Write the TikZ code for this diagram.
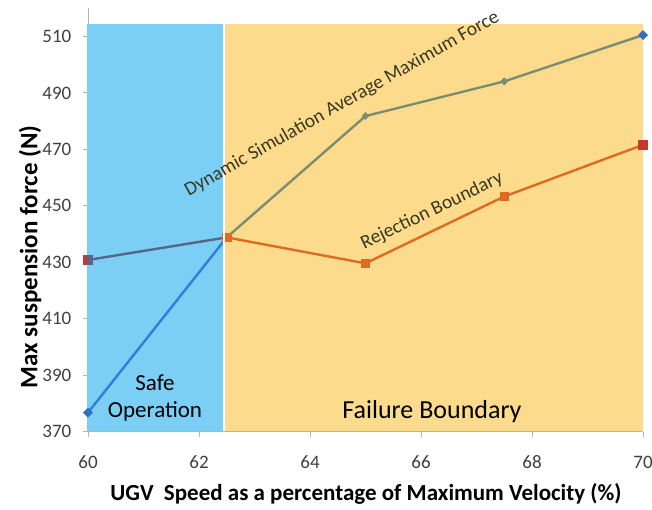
\documentclass[tikz,border=0pt]{standalone}
\usepackage{fontspec}
\setmainfont{Carlito}
\usetikzlibrary{shapes.geometric}

\definecolor{saferegion}{HTML}{7BCFF4}
\definecolor{failregion}{HTML}{FCDC8C}
\definecolor{simline}{HTML}{7A8C73}
\definecolor{simblue}{HTML}{2F7ED8}
\definecolor{simmark}{HTML}{2E6FC0}
\definecolor{rejline}{HTML}{DE6B22}
\definecolor{rejblue}{HTML}{5A6487}
\definecolor{rejmark}{HTML}{C43A33}
\definecolor{axisgray}{HTML}{B4B4B4}
\definecolor{ticktext}{HTML}{404040}
\definecolor{labeltext}{HTML}{3A3820}

\tikzset{
  diam/.style={diamond, inner sep=0pt, minimum size=8pt, fill=simline, draw=none},
  diamend/.style={diam, minimum size=10pt, fill=simmark},
  sq/.style={rectangle, inner sep=0pt, minimum size=9.5pt, fill=rejline, draw=none},
  sqend/.style={sq, fill=rejmark},
  ytick/.style={anchor=east, font=\fontsize{19}{19}\selectfont, text=ticktext, inner sep=0pt},
  xtick/.style={anchor=center, font=\fontsize{19}{19}\selectfont, text=ticktext, inner sep=0pt},
  axtitle/.style={font=\bfseries, text=black, inner sep=0pt},
  curvelabel/.style={font=\fontsize{19.5}{19.5}\selectfont, text=labeltext, inner sep=0pt},
  zonelabel/.style={text=black, inner sep=0pt, align=center},
  series/.style={line width=2.4pt},
}

\begin{document}
\begin{tikzpicture}[x=1pt,y=1pt]
\useasboundingbox (0,0) rectangle (652,509);

% shaded zones
\fill[failregion] (225,78) rectangle (643,485);

% axes
\draw[axisgray, line width=1pt] (88,501) -- (88,77.5) -- (643,77.5);

\begin{scope}[shift={(88,77.5)}, x=55.5pt, y=2.8214pt]
  % ticks
  \foreach \v in {0,2,4,6,8,10} {
    \draw[axisgray, line width=1pt] (\v,0) -- ++(0,-5pt);
    \pgfmathtruncatemacro{\lab}{60+\v}
    \node[xtick] (xt\v) at ([yshift=-31pt]\v,0) {\lab};
  }
  \foreach \v in {0,20,40,60,80,100,120,140} {
    \draw[axisgray, line width=1pt] (0,\v) -- ++(-5pt,0);
    \pgfmathtruncatemacro{\lab}{370+\v}
    \node[ytick] (yt\v) at ([xshift=-16.5pt]0,\v) {\lab};
  }

  % data points
  \coordinate (s1) at (0,6.7);
  \coordinate (s2) at (2.5,68.8);
  \coordinate (s3) at (5,111.8);
  \coordinate (s4) at (7.5,124.1);
  \coordinate (s5) at (10,140.5);
  \coordinate (r1) at (0,60.8);
  \coordinate (r2) at (2.5,68.8);
  \coordinate (r3) at (5,59.6);
  \coordinate (r4) at (7.5,83.3);
  \coordinate (r5) at (10,101.6);

  % simulation series
  \draw[series, simline] (s2) -- (s3) -- (s4) -- (s5);
  \node[diam] (ms3) at (s3) {};
  \node[diam] (ms4) at (s4) {};
  \node[diamend] (ms5) at (s5) {};

  % rejection series
  \draw[series, rejline] (r2) -- (r3) -- (r4) -- (r5);
  \node[sq] (mr3) at (r3) {};
  \node[sq] (mr4) at (r4) {};
  \node[sqend] (mr5) at (r5) {};
  \node[sqend] (mr1) at (r1) {};
\end{scope}

% safe operation zone, over the first part of both series
\fill[saferegion] (87,78) rectangle (223,485);
\begin{scope}[shift={(88,77.5)}, x=55.5pt, y=2.8214pt]
  \draw[series, rejblue] (r1) -- (r2);
  \draw[series, simblue] (s1) -- (s2);
  \begin{scope}
    \clip (-1pt,0) rectangle (2.5,140);
    \node[sq, fill=rejblue] (mr1b) at (r1) {};
  \end{scope}
  \node[diamend] (ms1) at (s1) {};
  \node[sq] (mr2) at (r2) {};
\end{scope}
\draw[white, line width=1.2pt] (224,78) -- (224,485);

% zone and curve labels
\node[zonelabel, font=\fontsize{23}{27}\selectfont] (safe) at (155,111) {Safe\\Operation};
\node[zonelabel, font=\fontsize{26}{26}\selectfont] (fail) at (432,97) {Failure Boundary};
\node[curvelabel, rotate=29.5] (simlab) at (342,405) {Dynamic Simulation Average Maximum Force};
\node[curvelabel, rotate=25.7] (rejlab) at (432,298) {Rejection Boundary};

% axis titles
\node[axtitle, rotate=90, font=\fontsize{25}{25}\selectfont\bfseries] (ytitle) at (30,252) {Max suspension force (N)};
\node[axtitle, font=\fontsize{23}{23}\selectfont\bfseries] (xtitle) at (366,15) {UGV\ \ Speed as a percentage of Maximum Velocity (\%)};
\end{tikzpicture}
\end{document}
